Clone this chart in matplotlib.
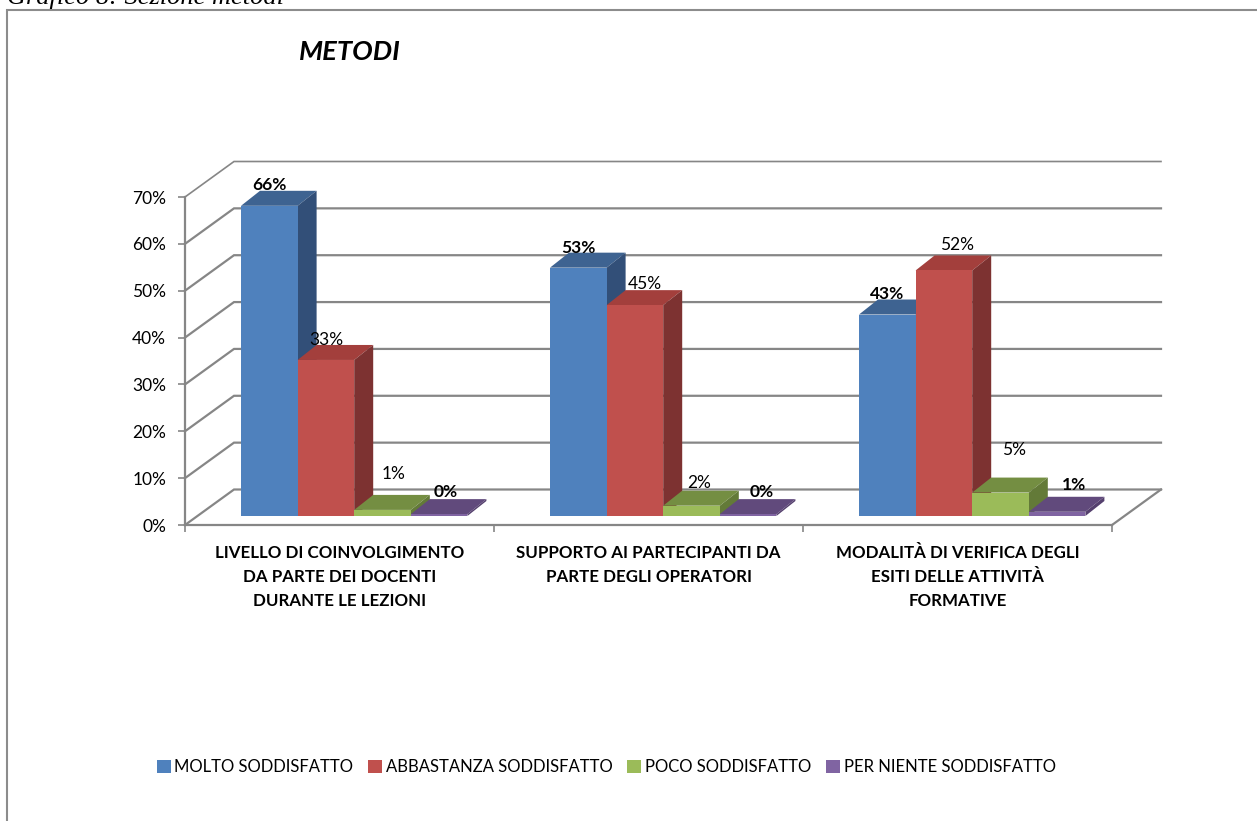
import numpy as np
import matplotlib
matplotlib.use('Agg')
import matplotlib.pyplot as plt
from matplotlib.patches import Polygon, Rectangle

categories = ['LIVELLO DI COINVOLGIMENTO\nDA PARTE DEI DOCENTI\nDURANTE LE LEZIONI',
              'SUPPORTO AI PARTECIPANTI DA\nPARTE DEGLI OPERATORI\n',
              'MODALITÀ DI VERIFICA DEGLI\nESITI DELLE ATTIVITÀ\nFORMATIVE']
series_names = ['MOLTO SODDISFATTO', 'ABBASTANZA SODDISFATTO', 'POCO SODDISFATTO', 'PER NIENTE SODDISFATTO']
molto = [66.2, 53, 43]
abbastanza = [33.3, 45, 52.4]
poco = [1.3, 2.2, 5]
per_niente = [0.4, 0.4, 0.9]
y_ticks = [0, 10, 20, 30, 40, 50, 60, 70]

W, H = 1257, 821
GRAY = '#868686'
# front, top, side
colors = [('#4F81BD', '#3E6391', '#324F78'),
          ('#C0504D', '#A33F3C', '#7D3231'),
          ('#9BBB59', '#748E42', '#637A38'),
          ('#8064A2', '#614A7C', '#55406E')]
# label nudges in pixels from the top of each bar front
label_dx = [[0, 0, 0], [0, 10, 13], [11, 8, 14], [7, 14, 17]]
label_dy = [[21, 20, 21], [20, 21, 25], [36, 23, 43], [22, 22, 27]]
bold_series = [True, False, False, True]

plt.rcParams['font.family'] = ['Lato', 'DejaVu Sans']

fig = plt.figure(figsize=(W / 100, H / 100), dpi=100)
fig.patches.append(Rectangle((7 / W, -0.01), 1.1, 1.01 - 10.5 / H, transform=fig.transFigure,
                             fill=False, edgecolor='#8c8c8c', linewidth=1.5))
# the caption is cut by the top edge in the source too
fig.text(7 / W, 1 - 4 / H, 'Grafico 8: Sezione metodi', family='Liberation Serif', style='italic',
         fontsize=19, color='black', va='baseline', ha='left')
fig.text(350 / W, 1 - 52 / H, 'METODI', fontsize=19.7, fontweight='bold', style='italic',
         ha='center', va='center')

left, right, y0, y70 = 185, 1112, 525, 197
ax = fig.add_axes([left / W, 1 - y0 / H, (right - left) / W, (y0 - y70) / H])
ax.set_xlim(0, 3)
ax.set_ylim(0, 70)
ax.patch.set_alpha(0)

x_per_px = 3 / (right - left)
y_per_px = 70 / (y0 - y70)
wall_dx, wall_dy = 49 * x_per_px, 35.5 * y_per_px

# back wall, left wall and floor
for v in y_ticks:
    ax.plot([0, wall_dx, 3 + wall_dx], [v, v + wall_dy, v + wall_dy], color=GRAY,
            lw=1.2 if v == 70 else 1.6, clip_on=False, zorder=1, solid_joinstyle='miter')
ax.plot([3, 3 + wall_dx], [0, wall_dy], color=GRAY, lw=1.6, clip_on=False, zorder=1)

bar_w = 56.6 * x_per_px
bar_dx, bar_dy = 19 * x_per_px, 15 * y_per_px
base = 9 * y_per_px
start = 56 * x_per_px

all_values = [molto, abbastanza, poco, per_niente]
z = 2
for c in range(len(categories)):
    for s, values in enumerate(all_values):
        v = values[c]
        x0 = c + start + s * bar_w
        x1 = x0 + bar_w
        top = base + v
        front, top_c, side = colors[s]
        ax.add_patch(Polygon([(x0, top), (x1, top), (x1 + bar_dx, top + bar_dy), (x0 + bar_dx, top + bar_dy)],
                             facecolor=top_c, edgecolor='none', clip_on=False, zorder=z))
        ax.add_patch(Polygon([(x1, base), (x1 + bar_dx, base + bar_dy), (x1 + bar_dx, top + bar_dy), (x1, top)],
                             facecolor=side, edgecolor='none', clip_on=False, zorder=z))
        ax.add_patch(Rectangle((x0, base), bar_w, v, facecolor=front, edgecolor='none', clip_on=False, zorder=z + 1))
        z += 2

# data labels on top of everything
for c in range(len(categories)):
    for s, values in enumerate(all_values):
        v = values[c]
        x = c + start + (s + 0.5) * bar_w
        ax.annotate('{:.0f}%'.format(v), (x, base + v), xytext=(label_dx[s][c], label_dy[s][c]),
                    textcoords='offset pixels', ha='center', va='center', fontsize=12.5,
                    fontweight='bold' if bold_series[s] else 'normal', color='black',
                    annotation_clip=False, zorder=100)

for name in ['top', 'right']:
    ax.spines[name].set_visible(False)
for name in ['left', 'bottom']:
    ax.spines[name].set_color(GRAY)
    ax.spines[name].set_linewidth(1.6)
    ax.spines[name].set_zorder(1)

ax.set_yticks(y_ticks)
ax.set_yticklabels(['{}%'.format(v) for v in y_ticks], fontsize=12.5, color='black')
ax.tick_params(axis='y', color=GRAY, width=1.2, length=5, pad=8.5)
ax.set_xticks(range(4))
ax.set_xticklabels([])
ax.tick_params(axis='x', which='major', color=GRAY, width=1.2, length=5)
ax.set_xticks(np.arange(3) + 0.5, minor=True)
ax.set_xticklabels(categories, minor=True, fontsize=12.2, fontweight='bold', linespacing=1.62, va='top')
ax.tick_params(axis='x', which='minor', length=0, pad=14.3)

handles = [Rectangle((0, 0), 1, 1, facecolor=colors[s][0]) for s in range(4)]
fig.legend(handles, series_names, loc='center', bbox_to_anchor=(606 / W, 1 - 767 / H), ncol=4, frameon=False,
           fontsize=12, handlelength=0.85, handleheight=0.85, handletextpad=0.2, columnspacing=0.9,
           borderpad=0, borderaxespad=0)

fig.savefig('out.png', dpi=100)
